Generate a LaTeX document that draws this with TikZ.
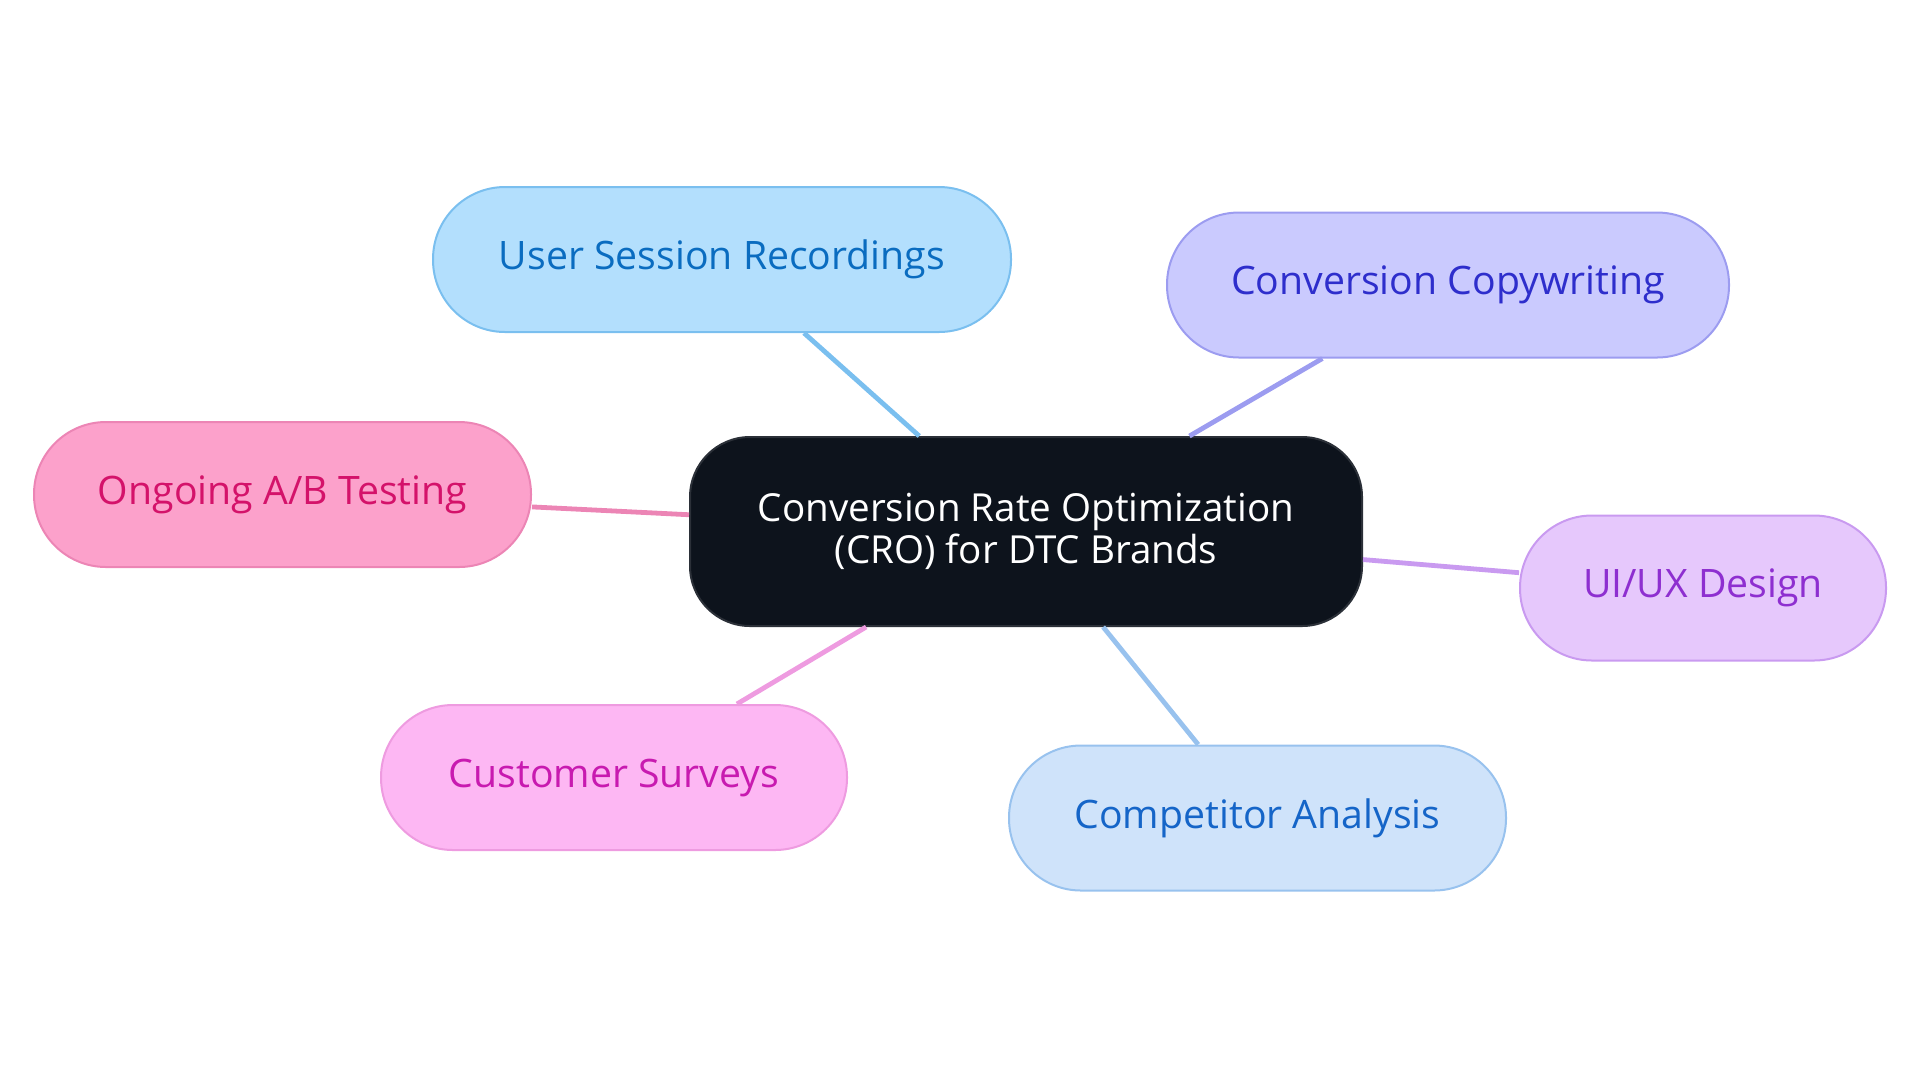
\documentclass[tikz,border=0pt]{standalone}
\usepackage{fontspec}
\setmainfont{Open Sans}
\definecolor{rootFill}{HTML}{0D131C}
\definecolor{rootLine}{HTML}{2B3038}
\definecolor{usrFill}{HTML}{B3DFFD}
\definecolor{usrLine}{HTML}{7ABFEF}
\definecolor{usrText}{HTML}{0A6CC0}
\definecolor{copyFill}{HTML}{CACAFE}
\definecolor{copyLine}{HTML}{9C9CF0}
\definecolor{copyText}{HTML}{2E2ECC}
\definecolor{abFill}{HTML}{FCA1CB}
\definecolor{abLine}{HTML}{EC85B5}
\definecolor{abText}{HTML}{D4126A}
\definecolor{uxFill}{HTML}{E6C8FC}
\definecolor{uxLine}{HTML}{C99AF0}
\definecolor{uxText}{HTML}{8E2FD0}
\definecolor{surveyFill}{HTML}{FDB7F3}
\definecolor{surveyLine}{HTML}{EE9BE0}
\definecolor{surveyText}{HTML}{C81AB0}
\definecolor{compFill}{HTML}{CFE3FA}
\definecolor{compLine}{HTML}{98C2EE}
\definecolor{compText}{HTML}{1565C8}
\tikzstyle{rootTopic}=[shape = rectangle, rounded corners = 30pt, minimum width = 336pt, minimum height = 94.5pt, align = center, draw = rootLine, fill = rootFill, text = white, line width = 1pt, font = \fontsize{19.3}{21}\selectfont]
\tikzstyle{subTopic}=[shape = rectangle, rounded corners = 36pt, minimum height = 72.5pt, line width = 1pt, font = \fontsize{19.6}{21}\selectfont]

\begin{document}
\begin{tikzpicture}[x = 0.5pt, y = -0.5pt]
\tikzstyle{branch}=[line width = 2.4pt]
\useasboundingbox (0,0) rectangle (1920,1083);
\node[rootTopic] (cro) at (1026,531.5) {Conversion Rate Optimization\\(CRO) for DTC Brands};
\node[subTopic, minimum width = 289pt, draw = usrLine, fill = usrFill, text = usrText] (usr) at (722,259.5) {User Session Recordings};
\node[subTopic, minimum width = 281pt, draw = copyLine, fill = copyFill, text = copyText] (copy) at (1448,285) {Conversion Copywriting};
\node[subTopic, minimum width = 248.5pt, draw = abLine, fill = abFill, text = abText] (ab) at (282.5,494.5) {Ongoing A/B Testing};
\node[subTopic, minimum width = 183pt, draw = uxLine, fill = uxFill, text = uxText] (ux) at (1703,588) {UI/UX Design};
\node[subTopic, minimum width = 233pt, draw = surveyLine, fill = surveyFill, text = surveyText] (survey) at (614,777.5) {Customer Surveys};
\node[subTopic, minimum width = 248.5pt, draw = compLine, fill = compFill, text = compText] (comp) at (1257.5,818) {Competitor Analysis};
\draw[branch, usrLine] (cro) -- (usr);
\draw[branch, copyLine] (cro) -- (copy);
\draw[branch, abLine] (cro) -- (ab);
\draw[branch, uxLine] (cro) -- (ux);
\draw[branch, surveyLine] (cro) -- (survey);
\draw[branch, compLine] (cro) -- (comp);
%
\end{tikzpicture}
\end{document}
